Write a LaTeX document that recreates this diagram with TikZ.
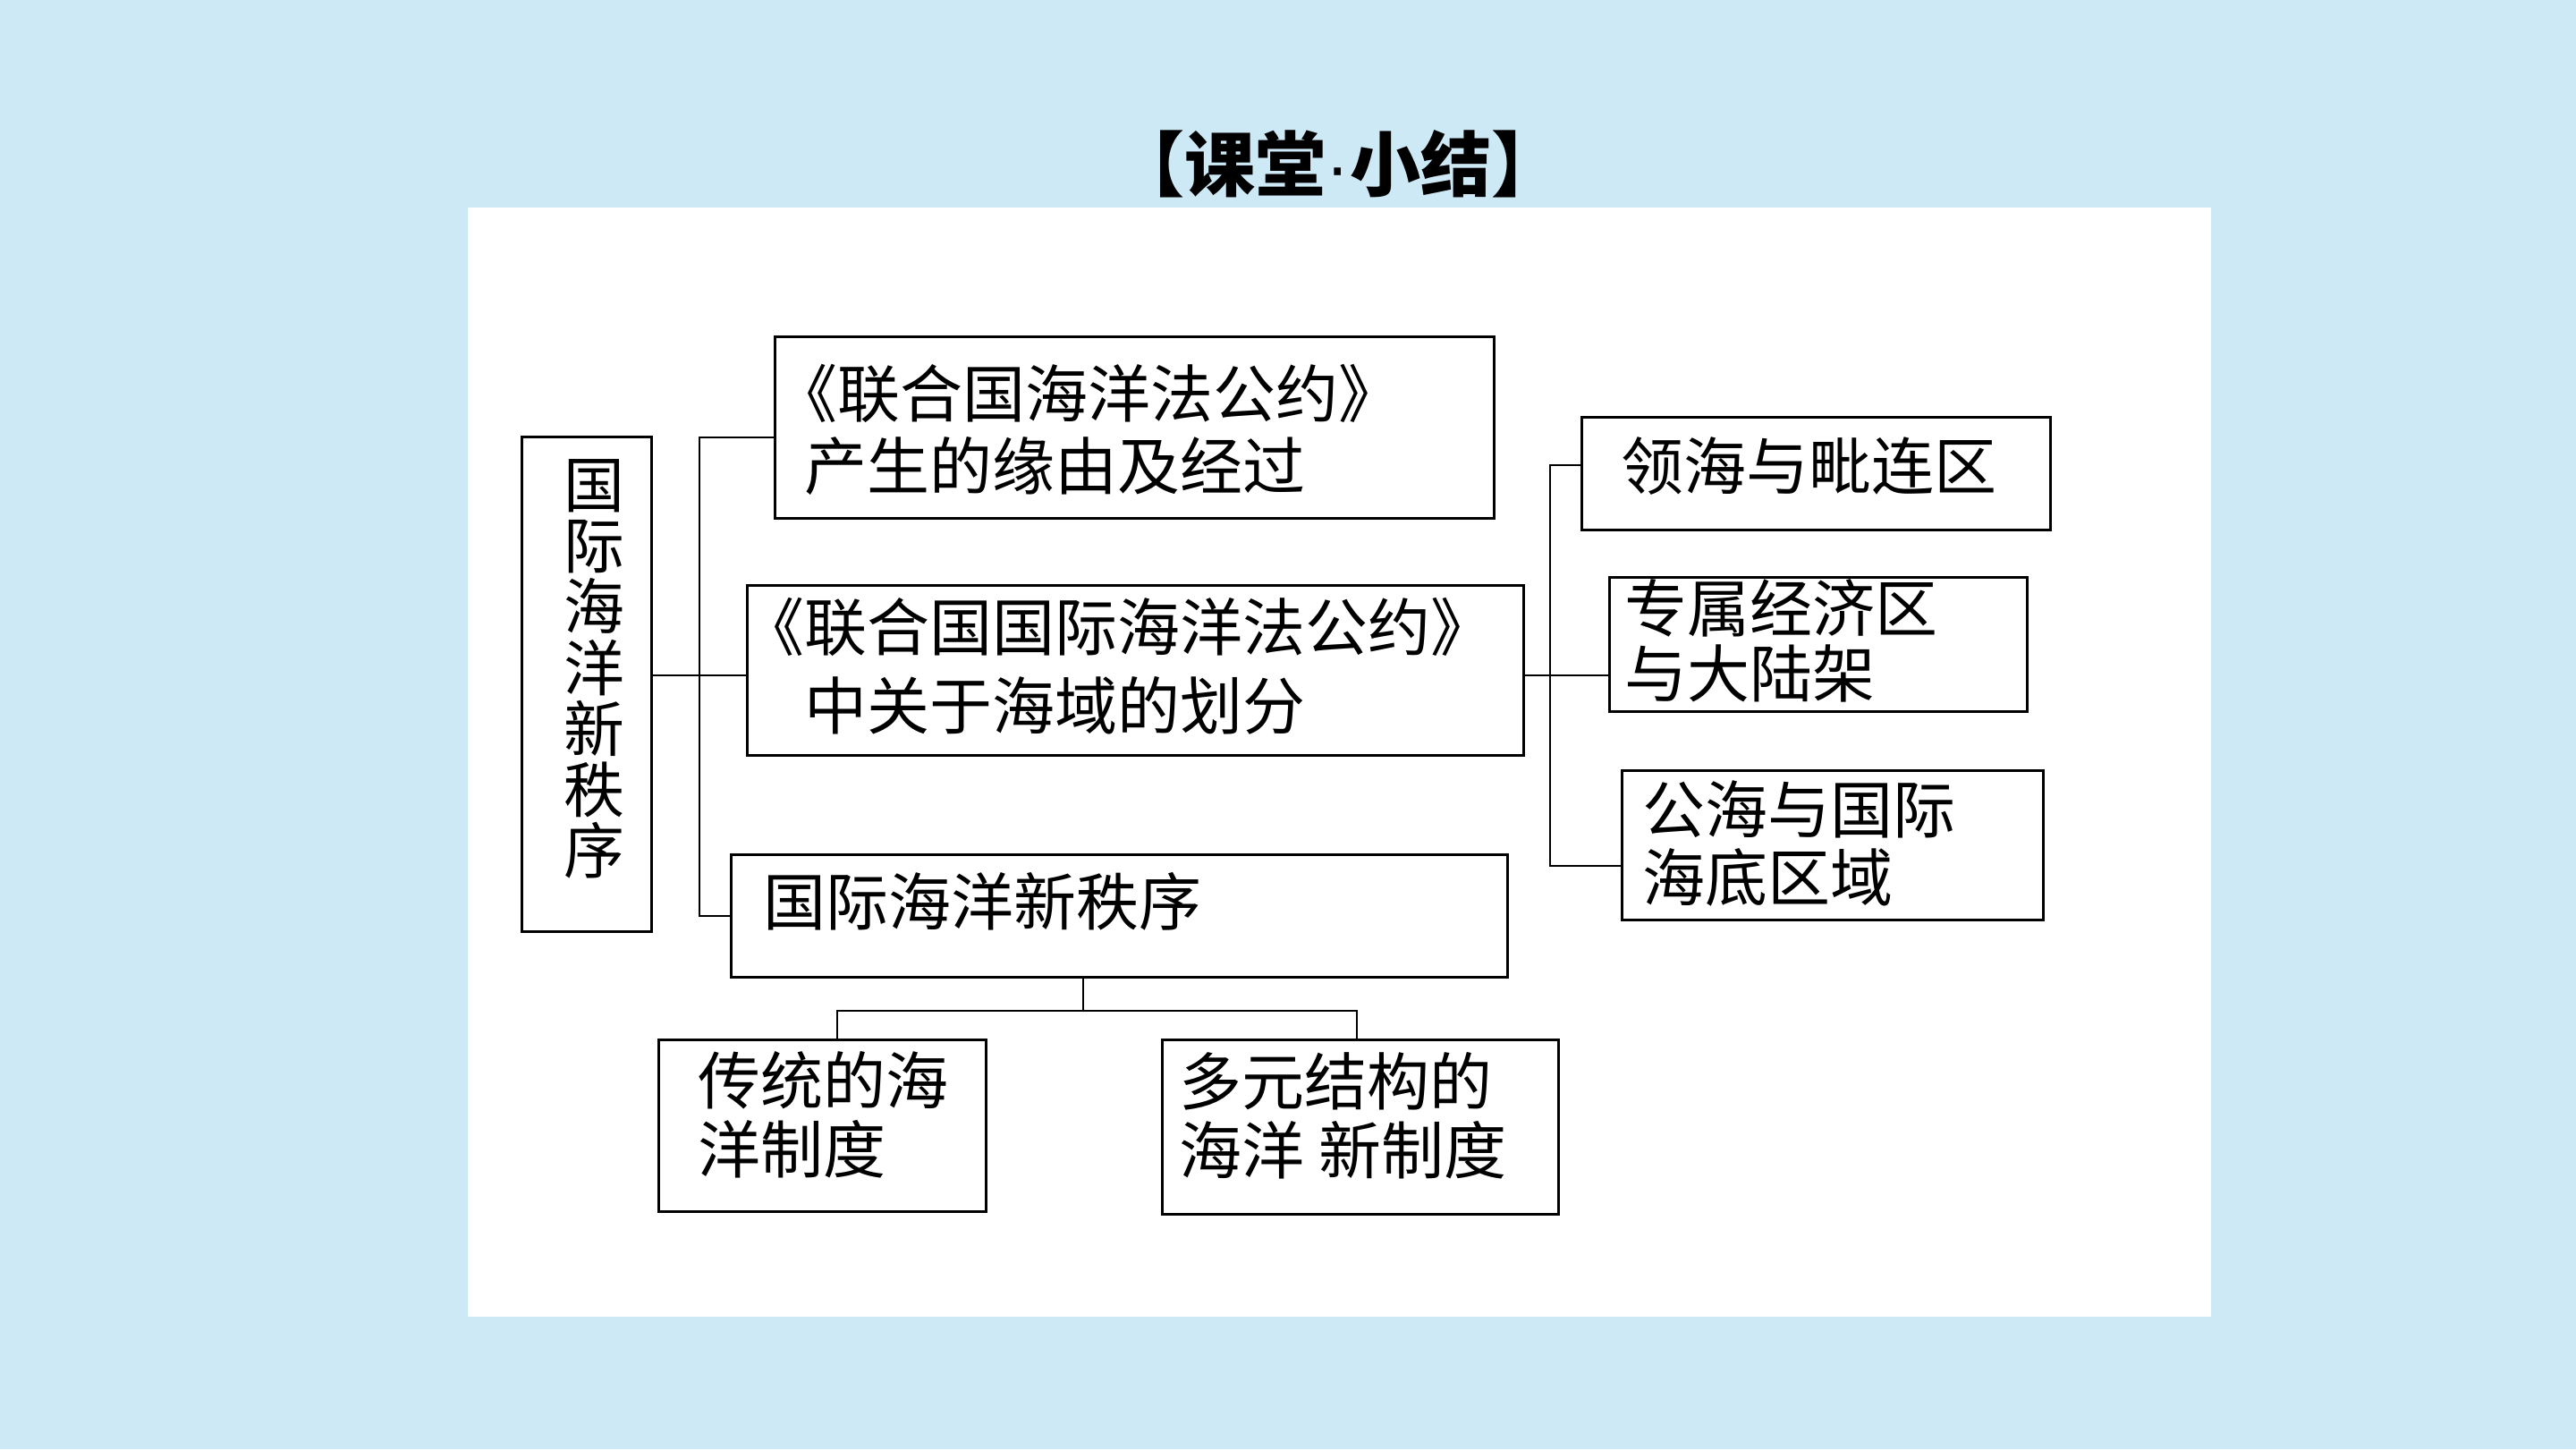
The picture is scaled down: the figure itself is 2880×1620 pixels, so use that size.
\documentclass[tikz,border=0pt]{standalone}
\usepackage{fontspec}
\setmainfont{Noto Sans CJK SC}
\newfontfamily\dotfont{Liberation Sans}
\definecolor{bgblue}{RGB}{206,233,246}
\begin{document}
\begin{tikzpicture}[x=0.01cm, y=-0.01cm,
  box/.style={draw, line width=0.85pt, inner sep=0pt, anchor=north west},
  txt/.style={inner sep=0pt, anchor=west, align=left},
  link/.style={line width=0.75pt}]
  % Background and panel
  \useasboundingbox (0,0) rectangle (2880,1620);
  \fill[bgblue] (0,0) rectangle (2880,1620);
  \fill[white] (523,232) rectangle (2472,1472);
  % Title
  \node[font=\bfseries\fontsize{22.5}{26}\selectfont] (title) at (1496,183) {【课堂{\dotfont\mdseries ·}小结】};
  % Boxes
  \foreach \n/\x/\y/\w/\h in {order/582/487/1.45/5.53, conv/865/375/8.04/2.03,
      zones/834/653/8.67/1.90, neworder/816/954/8.67/1.37, trad/735/1161/3.66/1.92,
      multi/1298/1161/4.43/1.95, terr/1767/465/5.24/1.26, eez/1798/644/4.67/1.50,
      high/1812/860/4.71/1.67}
    \node[box, minimum width=\w cm, minimum height=\h cm] (\n) at (\x,\y) {};
  % Texts
  \node[inner sep=0pt, align=center, font=\fontsize{19.3}{19.4}\selectfont] (ordertxt) at (664,748)
    {国\\际\\海\\洋\\新\\秩\\序};
  \node[txt, font=\fontsize{19.9}{23}\selectfont] (convtxt) at (866,480)
    {《联合国海洋法公约》\\\hspace*{0.47em}产生的缘由及经过};
  \node[txt, font=\fontsize{19.9}{25}\selectfont] (zonestxt) at (829,745)
    {《联合国国际海洋法公约》\\\hspace*{1em}中关于海域的划分};
  \node[txt, font=\fontsize{19.9}{23}\selectfont] (neworderttxt) at (853,1008) {国际海洋新秩序};
  \node[txt, font=\fontsize{19.9}{23}\selectfont] (terrtxt) at (1812,521) {领海与毗连区};
  \node[txt, font=\fontsize{19.9}{20.8}\selectfont] (eeztxt) at (1816,716) {专属经济区\\与大陆架};
  \node[txt, font=\fontsize{19.9}{21.6}\selectfont] (hightxt) at (1836,943) {公海与国际\\海底区域};
  \node[txt, font=\fontsize{19.9}{21.9}\selectfont] (tradtxt) at (780,1246) {传统的海\\洋制度};
  \node[txt, font=\fontsize{19.9}{21.9}\selectfont] (multitxt) at (1318,1247) {多元结构的\\海洋 新制度};
  % Left bracket
  \coordinate (ltop) at (782,489);
  \coordinate (lmid) at (782,755);
  \draw[link] (conv.west |- ltop) -- (ltop) |- (neworder.west);
  \draw[link] (order.east |- lmid) -- (zones.west |- lmid);
  % Right bracket
  \coordinate (rtop) at (1733,520);
  \coordinate (rbot) at (1733,968);
  \draw[link] (terr.west |- rtop) -- (rtop) -- (rbot) -- (high.west |- rbot);
  \draw[link] (zones.east |- lmid) -- (eez.west |- lmid);
  % Bottom bracket
  \coordinate (bmid) at (1211,1130);
  \coordinate (bl) at (936,1130);
  \coordinate (br) at (1517,1130);
  \draw[link] (neworder.south -| bmid) -- (bmid);
  \draw[link] (trad.north -| bl) -- (bl) -- (br) -- (multi.north -| br);
\end{tikzpicture}
\end{document}
